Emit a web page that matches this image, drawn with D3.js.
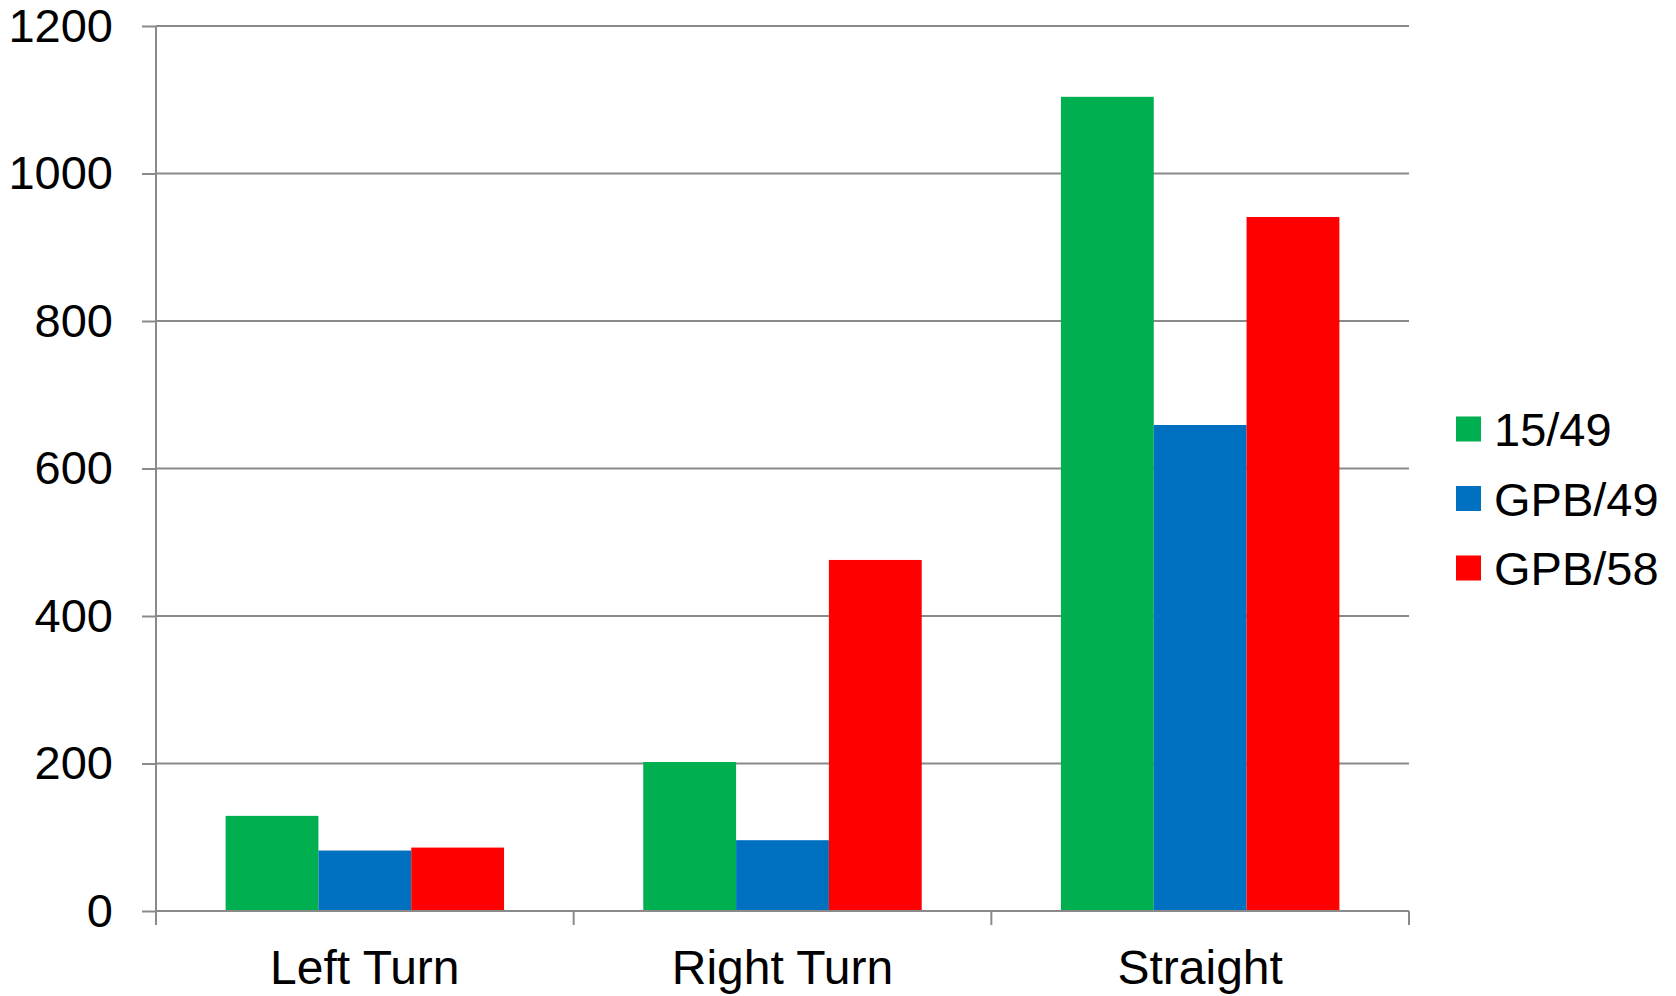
<!DOCTYPE html>
<html>
<head>
<meta charset="utf-8">
<script src="https://cdn.jsdelivr.net/npm/d3@7"></script>
<style>
  html, body { margin: 0; padding: 0; background: #fff; }
  svg { display: block; }
  text { font-family: "Liberation Sans", Arial, sans-serif; fill: #000; }
</style>
</head>
<body>
<svg id="chart" width="1676" height="996"></svg>
<script>
const categories = ["Left Turn", "Right Turn", "Straight"];
const seriesNames = ["15/49", "GPB/49", "GPB/58"];
const seriesColors = ["#00B050", "#0070C0", "#FF0000"];
const values15_49 = [129, 202, 1104];
const valuesGPB49 = [82, 96, 659];
const valuesGPB58 = [86, 476, 941];
const yTicks = [0, 200, 400, 600, 800, 1000, 1200];

const seriesValues = [values15_49, valuesGPB49, valuesGPB58];

(function () {
const svg = d3.select("#chart");
const plotLeft = 156, plotRight = 1409, plotTop = 26, plotBottom = 911;
const axisColor = "#8a8a8a";
const fontSize = 47;
const catFontSize = 48;

const x0 = d3.scaleBand().domain(categories).range([plotLeft, plotRight]).paddingInner(0).paddingOuter(0);
const bw = x0.bandwidth();
const x1 = d3.scaleBand().domain(seriesNames).range([bw / 6, bw * 5 / 6]).padding(0);
const y = d3.scaleLinear().domain([0, 1200]).range([plotBottom, plotTop]);

// gridlines
svg.append("g").selectAll("line").data(yTicks.filter(t => t > 0)).join("line")
  .attr("x1", plotLeft).attr("x2", plotRight)
  .attr("y1", d => y(d)).attr("y2", d => y(d))
  .attr("stroke", axisColor).attr("stroke-width", 2);

// bars
const groups = svg.append("g").selectAll("g").data(categories).join("g")
  .attr("transform", c => `translate(${x0(c)},0)`);
groups.selectAll("rect").data((c, ci) => seriesNames.map((s, si) => ({ s, si, v: seriesValues[si][ci] })))
  .join("rect")
  .attr("x", d => x1(d.s))
  .attr("width", x1.bandwidth())
  .attr("y", d => y(d.v))
  .attr("height", d => y(0) - y(d.v))
  .attr("fill", d => seriesColors[d.si]);

// y axis
const yAxis = svg.append("g").attr("transform", `translate(${plotLeft},0)`)
  .call(d3.axisLeft(y).tickValues(yTicks).tickSize(14).tickPadding(29).tickFormat(d3.format("d")));
yAxis.select(".domain").attr("stroke", axisColor).attr("stroke-width", 2)
  .attr("d", `M0,${plotTop}V${plotBottom}`);
yAxis.selectAll(".tick line").attr("stroke", axisColor).attr("stroke-width", 2);
yAxis.selectAll(".tick text").attr("font-size", fontSize)
  .attr("font-family", '"Liberation Sans", Arial, sans-serif').attr("fill", "#000");

// x axis
const xg = svg.append("g");
xg.append("line").attr("x1", plotLeft).attr("x2", plotRight).attr("y1", plotBottom).attr("y2", plotBottom)
  .attr("stroke", axisColor).attr("stroke-width", 2);
const boundaries = categories.map(c => x0(c)).concat([x0(categories[categories.length - 1]) + bw]);
xg.selectAll("line.tk").data(boundaries).join("line").attr("class", "tk")
  .attr("x1", d => d).attr("x2", d => d).attr("y1", plotBottom).attr("y2", plotBottom + 14)
  .attr("stroke", axisColor).attr("stroke-width", 2);
xg.selectAll("text").data(categories).join("text")
  .attr("x", c => x0(c) + bw / 2).attr("y", 984)
  .attr("text-anchor", "middle").attr("font-size", catFontSize)
  .text(c => c);

// legend
const legend = svg.append("g");
const legY = [429, 498.5, 568];
seriesNames.forEach((s, i) => {
  legend.append("rect").attr("x", 1456).attr("y", legY[i] - 12.5).attr("width", 25).attr("height", 25)
    .attr("fill", seriesColors[i]);
  legend.append("text").attr("x", 1494).attr("y", legY[i] + 17).attr("font-size", fontSize).text(s);
});
})();
</script>
</body>
</html>
